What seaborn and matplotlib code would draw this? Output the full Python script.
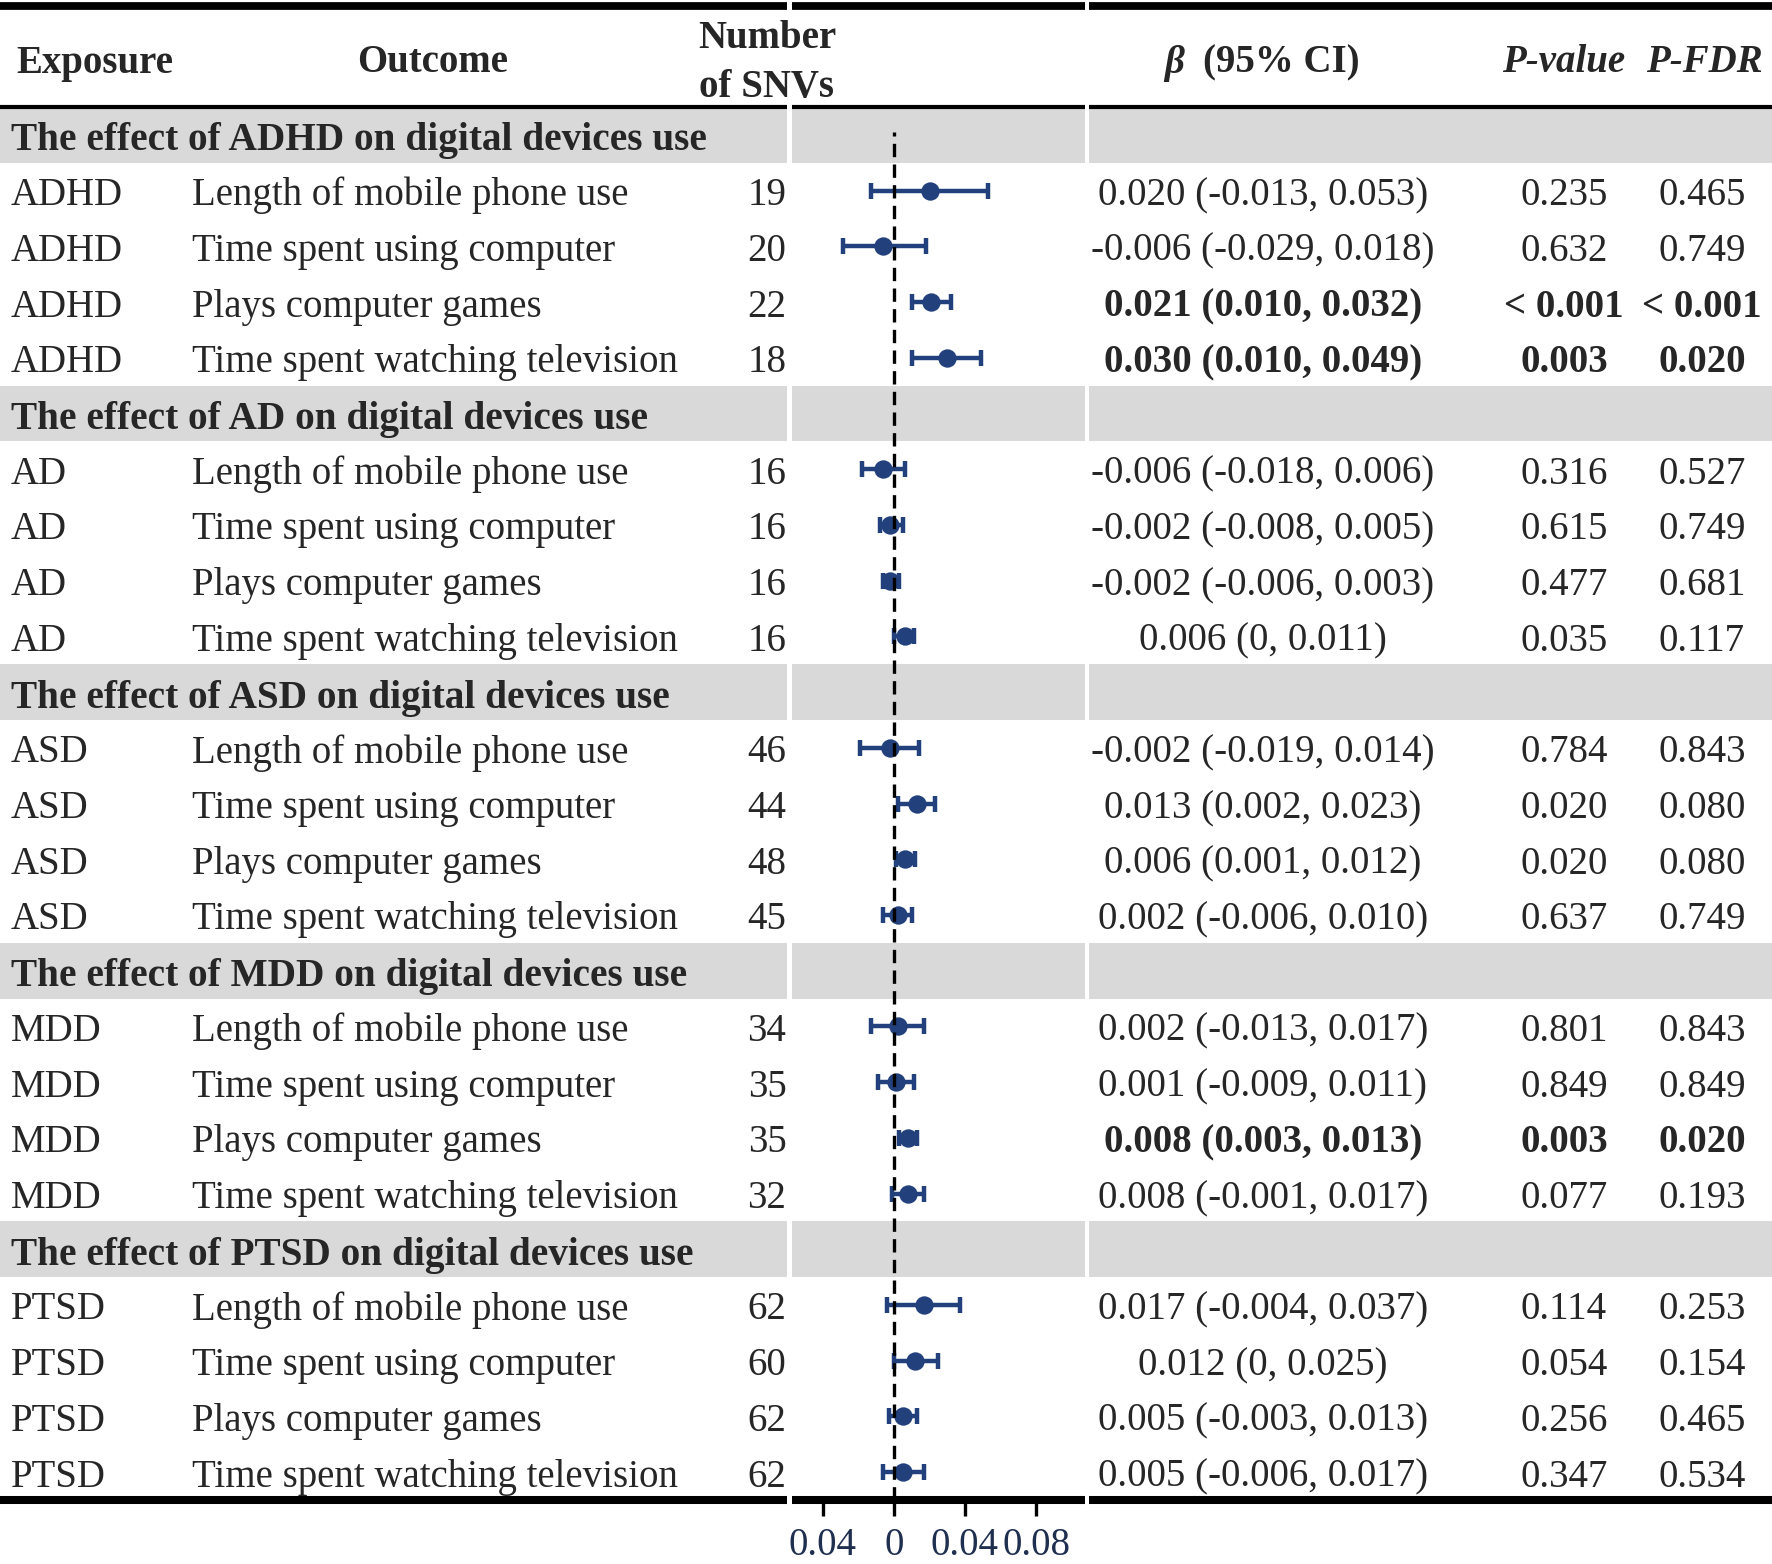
import numpy as np
import pandas as pd
import matplotlib
matplotlib.use("Agg")
import matplotlib.pyplot as plt
import seaborn as sns

exposures = ["ADHD", "AD", "ASD", "MDD", "PTSD"]
outcomes = ["Length of mobile phone use", "Time spent using computer",
            "Plays computer games", "Time spent watching television"]
n_snvs = [19, 20, 22, 18, 16, 16, 16, 16, 46, 44, 48, 45,
          34, 35, 35, 32, 62, 60, 62, 62]
beta = [0.020, -0.006, 0.021, 0.030, -0.006, -0.002, -0.002, 0.006,
        -0.002, 0.013, 0.006, 0.002, 0.002, 0.001, 0.008, 0.008,
        0.017, 0.012, 0.005, 0.005]
ci_low = [-0.013, -0.029, 0.010, 0.010, -0.018, -0.008, -0.006, 0,
          -0.019, 0.002, 0.001, -0.006, -0.013, -0.009, 0.003, -0.001,
          -0.004, 0, -0.003, -0.006]
ci_high = [0.053, 0.018, 0.032, 0.049, 0.006, 0.005, 0.003, 0.011,
           0.014, 0.023, 0.012, 0.010, 0.017, 0.011, 0.013, 0.017,
           0.037, 0.025, 0.013, 0.017]
p_value = ["0.235", "0.632", "< 0.001", "0.003", "0.316", "0.615", "0.477", "0.035",
           "0.784", "0.020", "0.020", "0.637", "0.801", "0.849", "0.003", "0.077",
           "0.114", "0.054", "0.256", "0.347"]
p_fdr = ["0.465", "0.749", "< 0.001", "0.020", "0.527", "0.749", "0.681", "0.117",
         "0.843", "0.080", "0.080", "0.749", "0.843", "0.849", "0.020", "0.193",
         "0.253", "0.154", "0.465", "0.534"]
bold_rows = [2, 3, 14]
xticks = [-0.04, 0, 0.04, 0.08]
xtick_labels = ["0.04", "0", "0.04", "0.08"]


def fmt(v):
    return "0" if v == 0 else f"{v:.3f}"


# build the table: one header row per exposure, then four outcome rows
rows = []
k = 0
for g, ex in enumerate(exposures):
    rows.append(dict(kind="group", exposure=ex))
    for oc in outcomes:
        rows.append(dict(kind="data", exposure=ex, outcome=oc, n=str(n_snvs[k]),
                         beta=beta[k], lo=ci_low[k], hi=ci_high[k],
                         p=p_value[k], fdr=p_fdr[k], bold=k in bold_rows))
        k += 1
df = pd.DataFrame(rows)
df["row"] = np.arange(len(df))
dat = df[df["kind"] == "data"]

sns.set_style("white")
plt.rcParams["font.family"] = ["Liberation Serif", "DejaVu Serif"]
FS = 28
navy = "#22407c"
gray = "#d9d9d9"

W, H = 1772, 1564
top, bot = 107, 1500
rh = (bot - top) / len(df)
fx0, fx1 = 792, 1085
zero_px, px_per_unit = 894, 1775

fig = plt.figure(figsize=(W / 100, H / 100), dpi=100)
ax = fig.add_axes([0, 0, 1, 1])
ax.set_xlim(0, W)
ax.set_ylim(H, 0)
ax.axis("off")
ax.set_zorder(2)
ax.patch.set_alpha(0)

# forest panel (drawn below the text layer)
fa = fig.add_axes([fx0 / W, 1 - bot / H, (fx1 - fx0) / W, (bot - top) / H])
fa.set_zorder(1)

# gray group bands and rules (left and right blocks)
for _, r in df[df["kind"] == "group"].iterrows():
    y0 = top + r["row"] * rh
    for a, b in [(0, 787), (1089, W)]:
        ax.fill_between([a, b], y0, y0 + rh, color=gray, lw=0, zorder=0)
    ax.text(11, y0 + rh / 2 + 6, f"The effect of {r['exposure']} on digital devices use",
            fontsize=FS + 0.3, fontweight="bold", va="center")

for y, lw in [(5.5, 5.6), (top, 3), (bot, 5.8)]:
    for a, b in [(0, 787), (1089, W)]:
        ax.plot([a, b], [y, y], color="black", lw=lw, solid_capstyle="butt")
ax.plot([fx0, fx1], [5.5, 5.5], color="black", lw=5.6, solid_capstyle="butt")
ax.plot([fx0, fx1], [top, top], color="black", lw=3, solid_capstyle="butt", zorder=5)

# header
hy = 63
ax.text(16, hy, "Exposure", fontsize=FS, fontweight="bold", va="center")
ax.text(433, hy, "Outcome", fontsize=FS, fontweight="bold", va="center", ha="center")
ax.text(767, 38, "Number", fontsize=FS, fontweight="bold", va="center", ha="center")
ax.text(767, 88, "of SNVs", fontsize=FS, fontweight="bold", va="center", ha="center")
ax.text(1164, hy, "β", fontsize=FS, fontweight="bold", style="italic", va="center")
ax.text(1203, hy, "(95% CI)", fontsize=FS, fontweight="bold", va="center")
ax.text(1564, hy, "P-value", fontsize=FS, fontweight="bold", style="italic",
        va="center", ha="center")
ax.text(1704, hy, "P-FDR", fontsize=FS, fontweight="bold", style="italic",
        va="center", ha="center")

# body
for _, r in dat.iterrows():
    y = top + (r["row"] + 0.5) * rh + 5
    w = "bold" if r["bold"] else "normal"
    ax.text(11, y, r["exposure"], fontsize=FS, va="center")
    ax.text(192, y, r["outcome"], fontsize=FS, va="center")
    ax.text(767, y, r["n"], fontsize=FS, va="center", ha="center")
    ax.text(1263, y, f"{fmt(r['beta'])} ({fmt(r['lo'])}, {fmt(r['hi'])})",
            fontsize=FS, va="center", ha="center", fontweight=w)
    ax.text(1564, y, r["p"], fontsize=FS, va="center", ha="center", fontweight=w)
    ax.text(1702, y, r["fdr"], fontsize=FS, va="center", ha="center", fontweight=w)

fa.set_xlim((fx0 - zero_px) / px_per_unit, (fx1 - zero_px) / px_per_unit)
fa.set_ylim(len(df) - 0.5, -0.5)
for _, r in df[df["kind"] == "group"].iterrows():
    fa.axhspan(r["row"] - 0.5, r["row"] + 0.5, color=gray, lw=0, zorder=0)

fa.errorbar(dat["beta"], dat["row"],
            xerr=[dat["beta"] - dat["lo"], dat["hi"] - dat["beta"]],
            fmt="none", ecolor=navy, elinewidth=3.2, capsize=6, capthick=3.2,
            zorder=3)
sns.scatterplot(data=dat, x="beta", y="row", ax=fa, color=navy, s=175,
                edgecolor=navy, linewidth=0, zorder=4, legend=False)
fa.axvline(0, ymin=0, ymax=(bot - 132) / (bot - top), color="black", lw=2.4,
           dashes=(4, 2.2), zorder=5)

for s in ["top", "left", "right"]:
    fa.spines[s].set_visible(False)
fa.spines["bottom"].set_linewidth(5.8)
fa.spines["bottom"].set_color("black")
fa.spines["bottom"].set_capstyle("butt")
fa.set_yticks([])
fa.set_xticks(xticks)
fa.set_xticklabels(xtick_labels)
fa.tick_params(axis="x", direction="out", length=11.5, width=2.4, pad=8,
               labelsize=FS, labelcolor="#1f2f4f", color="black", bottom=True)
fa.set_xlabel("")
fa.set_ylabel("")

fig.savefig("out.png", dpi=100)
